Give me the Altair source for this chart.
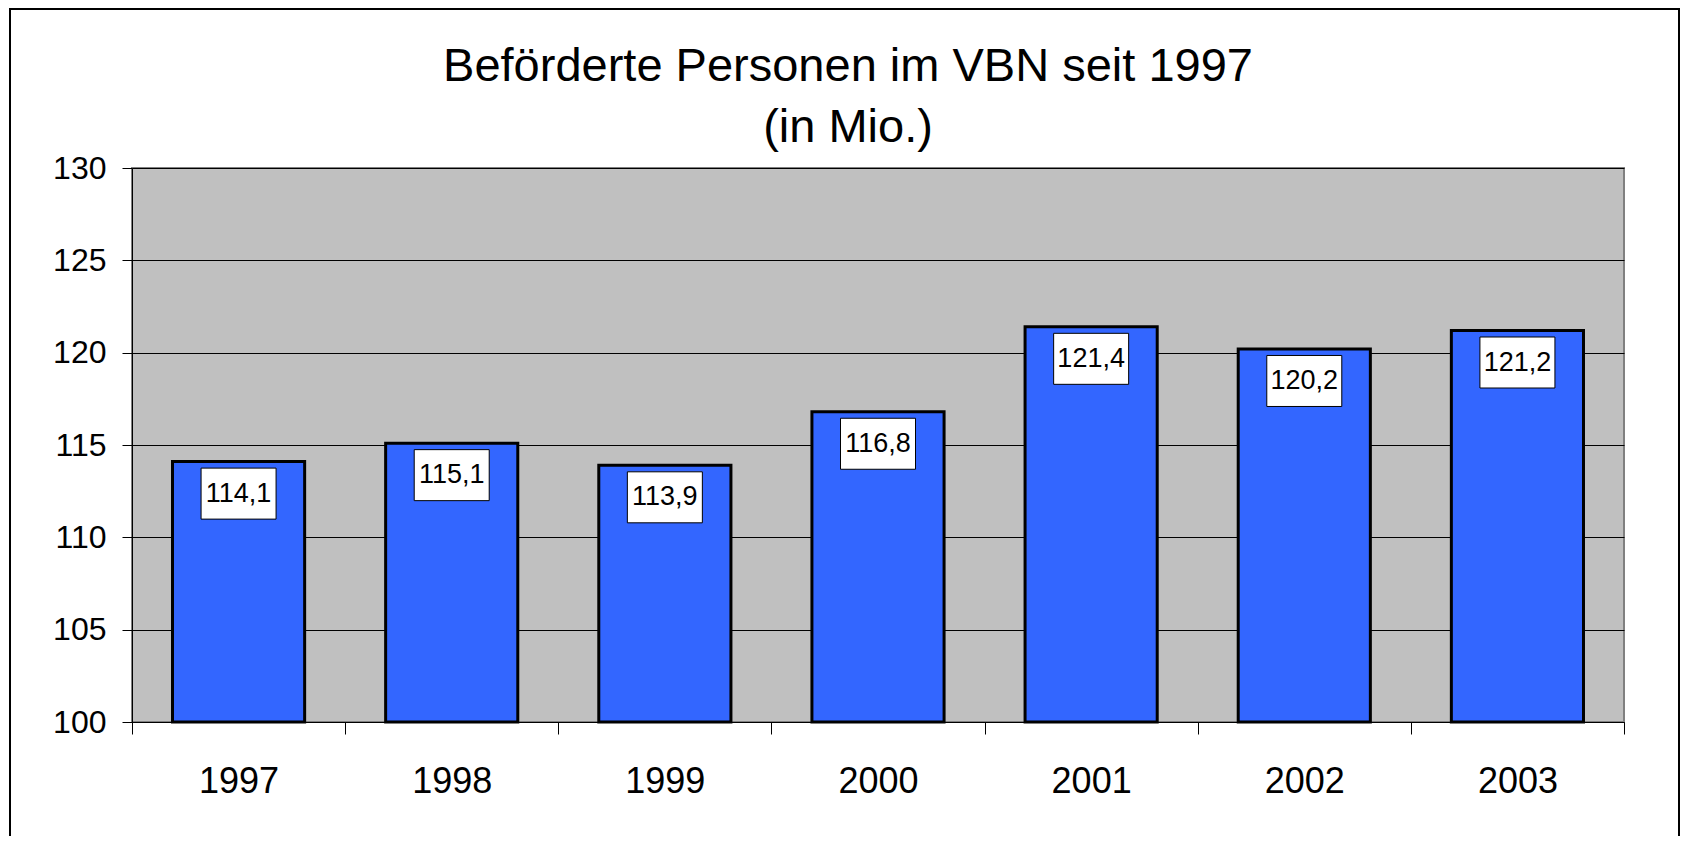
import altair as alt
import pandas as pd

years = ["1997", "1998", "1999", "2000", "2001", "2002", "2003"]
values = [114.1, 115.1, 113.9, 116.8, 121.4, 120.2, 121.2]
labels = ["114,1", "115,1", "113,9", "116,8", "121,4", "120,2", "121,2"]
y_ticks = [100, 105, 110, 115, 120, 125, 130]
title_lines = ["Beförderte Personen im VBN seit 1997", "(in Mio.)"]

df = pd.DataFrame({"Jahr": years, "Wert": values, "Label": labels})

FONT = "Liberation Sans"
W, H = 1492, 554

x_enc = alt.X(
    "Jahr:N",
    sort=years,
    scale=alt.Scale(paddingInner=0, paddingOuter=0),
    axis=alt.Axis(
        title=None,
        labelAngle=0,
        labelFontSize=36,
        labelFont=FONT,
        labelColor="black",
        labelPadding=30,
        tickSize=12,
        tickColor="black",
        tickBand="extent",
        domainColor="black",
        domainWidth=1,
        grid=False,
    ),
)
y_scale = alt.Scale(domain=[100, 130], zero=False, nice=False)
y_enc = alt.Y(
    "Wert:Q",
    scale=y_scale,
    axis=alt.Axis(
        title=None,
        values=y_ticks,
        format="d",
        labelFontSize=32,
        labelFont=FONT,
        labelColor="black",
        labelPadding=16,
        tickSize=10,
        tickColor="black",
        domainColor="black",
        grid=True,
        gridColor="black",
        gridWidth=1,
    ),
)

base = alt.Chart(df)

one = alt.Data(values=[{}])

border = alt.Chart(one).mark_rect(
    filled=False, stroke="black", strokeWidth=2
).encode(
    x=alt.value(-122), x2=alt.value(1547), y=alt.value(-159), y2=alt.value(720)
)

title = alt.Chart(one).mark_text(
    text=title_lines,
    font=FONT,
    fontSize=47,
    lineHeight=61,
    color="black",
    align="center",
    baseline="top",
).encode(x=alt.value(716), y=alt.value(-124))

bars = base.mark_bar(
    color="#3366FF", stroke="black", strokeWidth=3,
    width=alt.RelativeBandSize(0.62),
).encode(x=x_enc, y=y_enc, y2=alt.datum(100))

boxes = base.mark_point(
    shape="M-1,-0.68L1,-0.68L1,0.68L-1,0.68Z",
    size=75 * 75,
    filled=True,
    fill="white",
    stroke="black",
    strokeWidth=1,
    opacity=1,
    yOffset=32,
).encode(x=alt.X("Jahr:N", sort=years), y=alt.Y("Wert:Q", scale=y_scale))

texts = base.mark_text(
    font=FONT, fontSize=27, color="black", baseline="middle", align="center",
    yOffset=32,
).encode(x=alt.X("Jahr:N", sort=years), y=alt.Y("Wert:Q", scale=y_scale), text="Label:N")

chart = alt.layer(border, title, bars, boxes, texts).properties(
    width=W,
    height=H,
    background="white",
    padding={"left": 124, "top": 160, "right": 57, "bottom": 114},
    autosize=alt.AutoSizeParams(type="none"),
).configure_view(
    fill="#C0C0C0", stroke="#808080", strokeWidth=2
)

chart.save("out.html", embed_options={"renderer": "svg", "actions": False})
